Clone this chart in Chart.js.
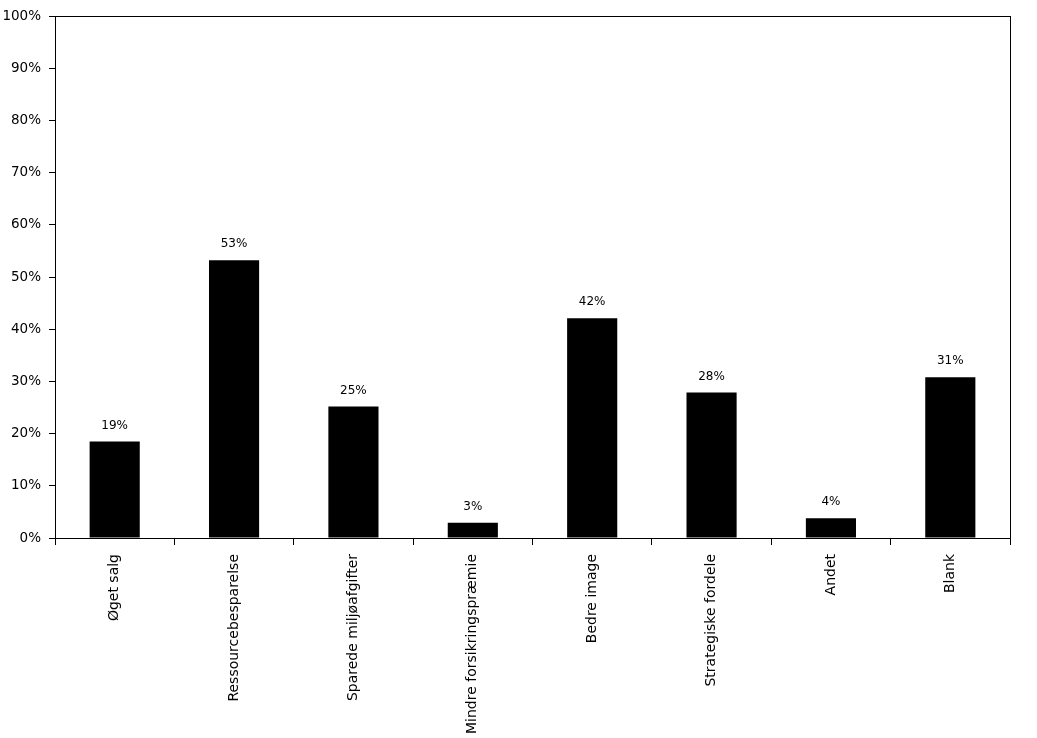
<!DOCTYPE html>
<html>
<head>
<meta charset="utf-8">
<script src="https://cdn.jsdelivr.net/npm/chart.js@4/dist/chart.umd.min.js"></script>
<style>
  html, body { margin: 0; padding: 0; background: #fff; }
  #wrap { width: 1037px; height: 738px; }
</style>
</head>
<body>
<div id="wrap"><canvas id="benefitChart"></canvas></div>
<script>
// Categories and values
const categories = [
    'Øget salg',
    'Ressourcebesparelse',
    'Sparede miljøafgifter',
    'Mindre forsikringspræmie',
    'Bedre image',
    'Strategiske fordele',
    'Andet',
    'Blank'
];
const shares = [18.5, 53.2, 25.2, 2.9, 42.1, 27.9, 3.8, 30.8];
const yTicks = [0, 10, 20, 30, 40, 50, 60, 70, 80, 90, 100];

const fontName = '"DejaVu Sans", Arial, sans-serif';

// Frame around the plot area (top and right edges)
const frame = {
    id: 'frame',
    afterDraw(chart) {
        const a = chart.chartArea;
        const ctx = chart.ctx;
        ctx.save();
        ctx.strokeStyle = '#000';
        ctx.lineWidth = 1;
        ctx.strokeRect(Math.round(a.left) + 0.5, Math.round(a.top) + 0.5,
            Math.round(a.right - a.left), Math.round(a.bottom - a.top));
        ctx.restore();
    }
};

// Value labels above the bars
const valueLabels = {
    id: 'valueLabels',
    afterDatasetsDraw(chart) {
        const ctx = chart.ctx;
        const meta = chart.getDatasetMeta(0);
        ctx.save();
        ctx.fillStyle = '#000';
        ctx.font = '12px ' + fontName;
        ctx.textAlign = 'center';
        ctx.textBaseline = 'bottom';
        meta.data.forEach((bar, i) => {
            ctx.fillText(Math.round(shares[i]) + '%', bar.x, bar.y - 10);
        });
        ctx.restore();
    }
};

new Chart(document.getElementById('benefitChart').getContext('2d'), {
    type: 'bar',
    data: {
        labels: categories,
        datasets: [{
            data: shares,
            backgroundColor: '#000',
            borderWidth: 0,
            categoryPercentage: 1,
            barPercentage: 0.42
        }]
    },
    options: {
        responsive: true,
        maintainAspectRatio: false,
        animation: false,
        layout: { padding: { top: 15, right: 27, left: 0, bottom: 0 } },
        plugins: {
            legend: { display: false },
            tooltip: { enabled: false }
        },
        scales: {
            x: {
                grid: {
                    offset: true,
                    drawOnChartArea: false,
                    color: '#000',
                    tickLength: 7
                },
                border: { color: '#000', width: 1 },
                ticks: {
                    color: '#000',
                    font: { family: fontName, size: 14 },
                    maxRotation: 90,
                    minRotation: 90,
                    autoSkip: false,
                    padding: 9
                },
                afterFit(scale) { scale.height = 200; }
            },
            y: {
                min: 0,
                max: 100,
                afterBuildTicks(scale) {
                    scale.ticks = yTicks.map(v => ({ value: v }));
                },
                grid: {
                    drawOnChartArea: false,
                    color: '#000',
                    tickLength: 6
                },
                border: { color: '#000', width: 1 },
                ticks: {
                    color: '#000',
                    font: { family: fontName, size: 13.5 },
                    padding: 8,
                    callback: v => v + '%'
                },
                afterFit(scale) { scale.width = 55; }
            }
        }
    },
    plugins: [frame, valueLabels]
});
</script>
</body>
</html>
